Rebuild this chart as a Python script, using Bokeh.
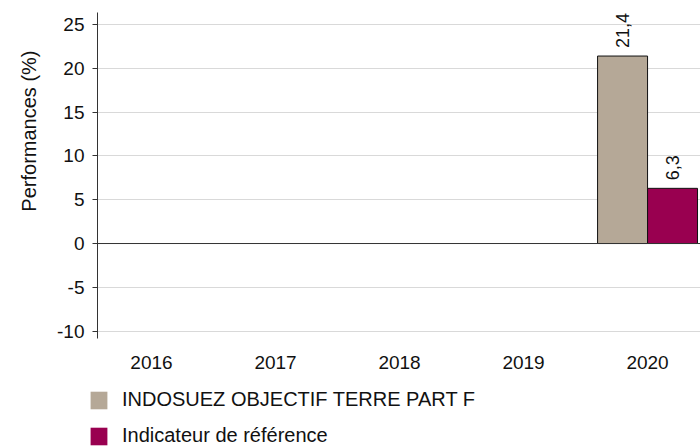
import numpy as np
from bokeh.plotting import figure
from bokeh.layouts import column
from bokeh.models import (Range1d, FixedTicker, Span, Legend, LegendItem,
                          ColumnDataSource, Title)
from bokeh.core.properties import value
from bokeh.embed import file_html
from bokeh.resources import INLINE

years = ["2016", "2017", "2018", "2019", "2020"]
fund = [np.nan, np.nan, np.nan, np.nan, 21.4]
bench = [np.nan, np.nan, np.nan, np.nan, 6.3]
fund_name = "INDOSUEZ OBJECTIF TERRE PART F"
bench_name = "Indicateur de référence"
y_ticks = [-10, -5, 0, 5, 10, 15, 20, 25]

FONT = "Liberation Sans"
C_FUND = "#b5a897"
C_BENCH = "#990050"
TXT = "#111111"

idx = np.arange(len(years))
bw = 0.403

p = figure(width=700, height=380, output_backend="svg", toolbar_location=None,
           x_range=Range1d(-0.4355, 4.427), y_range=Range1d(-10.84, 26.37),
           min_border_left=97, min_border_right=0, min_border_top=12,
           min_border_bottom=42)
p.frame_align = False
p.outline_line_color = None
p.background_fill_color = "white"

def fmt(v):
    return "" if np.isnan(v) else f"{v:.1f}".replace(".", ",")

src_f = ColumnDataSource(dict(x=idx - bw / 2, top=fund, lab=[fmt(v) for v in fund]))
src_b = ColumnDataSource(dict(x=idx + bw / 2, top=bench, lab=[fmt(v) for v in bench]))

p.vbar(x="x", top="top", bottom=0, width=bw, source=src_f, fill_color=C_FUND,
       line_color=TXT, line_width=1)
p.vbar(x="x", top="top", bottom=0, width=bw, source=src_b, fill_color=C_BENCH,
       line_color=TXT, line_width=1)

for s in (src_f, src_b):
    p.text(x="x", y="top", text="lab", source=s, angle=np.pi / 2,
           text_align="left", text_baseline="middle", y_offset=-8,
           text_font=value(FONT), text_font_size="18px", text_color=TXT)

p.add_layout(Span(location=0, dimension="width", line_color="#333333", line_width=1))

# x axis
p.xaxis.ticker = FixedTicker(ticks=list(idx))
p.xaxis.major_label_overrides = {int(i): y for i, y in zip(idx, years)}
p.xaxis.axis_line_color = None
p.xaxis.major_tick_line_color = None
p.xaxis.minor_tick_line_color = None
p.xaxis.major_label_standoff = 11
p.xaxis.major_label_text_font = FONT
p.xaxis.major_label_text_font_size = "19px"
p.xaxis.major_label_text_color = TXT

# y axis
p.yaxis.ticker = FixedTicker(ticks=y_ticks)
p.yaxis.major_label_overrides = {t: str(t) for t in y_ticks}
p.yaxis.axis_line_color = "#333333"
p.yaxis.major_tick_line_color = "#333333"
p.yaxis.major_tick_out = 5
p.yaxis.major_tick_in = 0
p.yaxis.minor_tick_line_color = None
p.yaxis.major_label_standoff = 8
p.yaxis.major_label_text_font = FONT
p.yaxis.major_label_text_font_size = "19px"
p.yaxis.major_label_text_color = TXT

# axis title as a side title, anchored near the top like the reference
p.add_layout(Title(text="Performances (%)", align="right", offset=38,
                   standoff=29, text_font=FONT, text_font_size="20px",
                   text_font_style="normal", text_color=TXT), "left")

p.xgrid.grid_line_color = None
p.ygrid.grid_line_color = "#d9d9d9"
p.ygrid.grid_line_width = 1

# legend in its own strip below the chart
lf = figure(width=700, height=67, output_backend="svg", toolbar_location=None,
            x_axis_type=None, y_axis_type=None, min_border=0,
            x_range=Range1d(0, 1), y_range=Range1d(0, 1))
lf.frame_align = False
lf.outline_line_color = None
lf.grid.grid_line_color = None
# proxy glyphs from the same data (outside this strip's range, so only the legend shows them)
r1 = lf.vbar(x="x", top="top", bottom=0, width=bw, source=src_f,
             fill_color=C_FUND, line_color=None)
r2 = lf.vbar(x="x", top="top", bottom=0, width=bw, source=src_b,
             fill_color=C_BENCH, line_color=None)
leg = Legend(items=[LegendItem(label=fund_name, renderers=[r1]),
                    LegendItem(label=bench_name, renderers=[r2])],
             location=(88, 0), orientation="vertical",
             glyph_width=21, glyph_height=22, label_standoff=13, spacing=13,
             padding=0, margin=0, border_line_color=None,
             background_fill_alpha=0,
             label_text_font=FONT, label_text_font_size="20px",
             label_text_color=TXT)
lf.add_layout(leg, "center")

open("out.html", "w").write(file_html(column(p, lf, spacing=0), INLINE))
